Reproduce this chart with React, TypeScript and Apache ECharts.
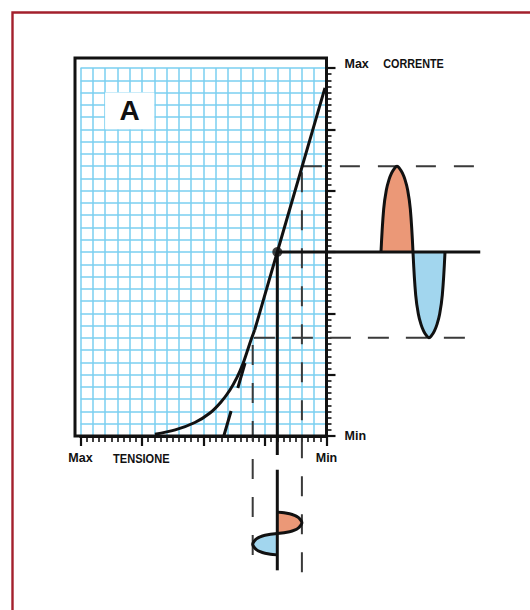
import { useEffect, useRef } from "react";
import * as echarts from "echarts";

// ---------- data (divisions of the graph paper) ----------
// characteristic curve: knee part and linear part
const kneeTension = [12.1, 15.4, 18.6, 21.05, 22.85, 24.3, 25.45, 26.35, 27.07, 27.72, 28.32];
const kneeCurrent = [0.3, 1.0, 2.2, 3.75, 5.55, 7.5, 9.55, 11.6, 13.7, 15.65, 17.28];
const linearTension = [28.32, 32, 39.75];
const linearCurrent = [17.28, 30, 56.75];
// dashed extension of the linear part below the knee
const tangentTension = [23.3, 27.85];
const tangentCurrent = [0, 15.65];
// working point and swings
const qTension = 32;
const qCurrent = 30;
const tensionSwing = [28, 36];
const currentSwing = [16, 44];
// axis end labels and titles
const tensionEnds = ["Max", "Min"];
const currentEnds = ["Min", "Max"];
const tensionTitle = "TENSIONE";
const currentTitle = "CORRENTE";
const panelLetter = "A";
// signals (phase in degrees, deviation from the working point)
const waveAngles = [0, 15, 30, 45, 60, 75, 90, 105, 120, 135, 150, 165, 180, 195, 210, 225, 240, 255, 270, 285, 300, 315, 330, 345, 360];
const currentWave = [0, 7.0, 10.1, 11.8, 12.9, 13.6, 14, 13.6, 12.9, 11.8, 10.1, 7.0, 0, -7.0, -10.1, -11.8, -12.9, -13.6, -14, -13.6, -12.9, -11.8, -10.1, -7.0, 0];
const tensionWave = [0, 2.0, 2.9, 3.4, 3.7, 3.9, 4, 3.9, 3.7, 3.4, 2.9, 2.0, 0, -2.0, -2.9, -3.4, -3.7, -3.9, -4, -3.9, -3.7, -3.4, -2.9, -2.0, 0];

// ---------- layout / style ----------
const FONT = '"Liberation Sans", Arial, sans-serif';
const INK = "#111111";
const PAPER = "#7acff0";
const DASH = "#3a3a3a";
const ORANGE = "#eb9877";
const BLUE = "#a2d6ee";
const UX = 6.15; // px per tension division
const UY = 6.1333; // px per current division
const GUIDE = { rightEnd: 65, lowEnd: 62.5, qDropEnd: -3.1, waveAxisTop: -5.5, waveAxisBottom: -21.9, lowDropEnd: -19.4, highDropEnd: -22.2, yMin: -23 };

const pairs = (xs: number[], ys: number[]) => xs.map((x, i) => [x, ys[i]]);
const labelFont = { fontFamily: FONT, fontWeight: "bold" as const, fontSize: 12.5, color: INK };

function guide(data: number[][], color: string, width: number, type: any = "solid", z = 3) {
  return {
    type: "line", xAxisIndex: 5, yAxisIndex: 5, data, symbol: "none", clip: false, silent: true, z,
    lineStyle: { color, width, type, cap: "butt" },
  };
}

export default function App() {
  const ref = useRef<HTMLDivElement>(null);
  useEffect(() => {
    document.body.style.margin = "0";
    const chart = echarts.init(ref.current!, undefined, { renderer: "svg" });
    const hidden = { show: false };
    const option: any = {
      animation: false,
      backgroundColor: "#ffffff",
      grid: [
        { left: 75, top: 58, width: 251.5, height: 378, show: true, borderColor: INK, borderWidth: 3, backgroundColor: "transparent", z: 5, outerBoundsMode: "none" },
        { left: 80.5, top: 68, width: 40 * UX, height: 60 * UY, outerBoundsMode: "none" },
        { left: 381, top: 68, width: 64, height: 60 * UY, outerBoundsMode: "none" },
        { left: 80.5 + (qTension - 4) * UX, top: 512, width: 8 * UX, height: 43, outerBoundsMode: "none" },
        { left: 80.5, top: 68, width: GUIDE.rightEnd * UX, height: (60 - GUIDE.yMin) * UY, outerBoundsMode: "none" },
      ],
      xAxis: [
        {
          type: "value", gridIndex: 1, min: 0, max: 40, interval: 10, position: "bottom",
          axisLine: { show: true, onZero: false, lineStyle: { color: INK, width: 3 } },
          axisTick: { show: true, length: 10, lineStyle: { color: INK, width: 2.2 } },
          minorTick: { show: true, splitNumber: 10, length: 6, lineStyle: { color: INK, width: 1.6 } },
          axisLabel: { ...labelFont, margin: 16, showMinLabel: true, showMaxLabel: true,
            formatter: (v: number) => (v === 0 ? tensionEnds[0] : v === 40 ? tensionEnds[1] : "") },
          splitLine: hidden,
        },
        {
          type: "value", gridIndex: 1, min: 0, max: 40, interval: 2, position: "top",
          axisLine: hidden, axisTick: hidden, axisLabel: hidden,
          splitLine: { show: true, lineStyle: { color: PAPER, width: 1.5 } },
        },
        { type: "value", gridIndex: 0, min: 0, max: 1, show: false },
        { type: "value", gridIndex: 2, min: 0, max: 360, show: false },
        { type: "value", gridIndex: 3, min: -4, max: 4, show: false },
        { type: "value", gridIndex: 4, min: 0, max: GUIDE.rightEnd, show: false },
      ],
      yAxis: [
        {
          type: "value", gridIndex: 1, min: 0, max: 60, interval: 10, position: "right",
          axisLine: { show: true, onZero: false, lineStyle: { color: INK, width: 3 } },
          axisTick: { show: true, length: 9, lineStyle: { color: INK, width: 2.2 } },
          minorTick: { show: true, splitNumber: 10, length: 5, lineStyle: { color: INK, width: 1.6 } },
          axisLabel: {
            margin: 18, showMinLabel: true, showMaxLabel: true,
            formatter: (v: number) => (v === 60 ? `{mx|${currentEnds[1]}}` : v === 0 ? `{mn|${currentEnds[0]}}` : ""),
            rich: { mx: { ...labelFont, padding: [0, 0, 9, 0] }, mn: { ...labelFont } },
          },
          splitLine: hidden,
        },
        {
          type: "value", gridIndex: 1, min: 0, max: 60, interval: 2, position: "left",
          axisLine: hidden, axisTick: hidden, axisLabel: hidden,
          splitLine: { show: true, lineStyle: { color: PAPER, width: 1.5 } },
        },
        { type: "value", gridIndex: 0, min: 0, max: 1, show: false },
        { type: "value", gridIndex: 2, min: -30, max: 30, show: false },
        { type: "category", gridIndex: 3, data: waveAngles.map(String), inverse: true, boundaryGap: false, show: false },
        { type: "value", gridIndex: 4, min: GUIDE.yMin, max: 60, show: false },
      ],
      series: [
        // dashed guide lines
        guide([[tensionSwing[1], currentSwing[1]], [GUIDE.rightEnd, currentSwing[1]]], DASH, 2, [20, 18]),
        guide([[GUIDE.lowEnd, currentSwing[0]], [tensionSwing[0], currentSwing[0]]], DASH, 2, [21, 17]),
        guide([[tensionSwing[0], GUIDE.lowDropEnd], [tensionSwing[0], currentSwing[0]]], DASH, 2, [20, 18]),
        guide([[tensionSwing[1], GUIDE.highDropEnd], [tensionSwing[1], currentSwing[1]]], DASH, 2, [20, 18]),
        // current signal (right)
        {
          type: "line", xAxisIndex: 3, yAxisIndex: 3, symbol: "none", clip: false, silent: true, smooth: 0.4, z: 4,
          data: pairs(waveAngles.slice(0, 13), currentWave.slice(0, 13)),
          lineStyle: { color: INK, width: 3 }, areaStyle: { color: ORANGE, opacity: 1 },
        },
        {
          type: "line", xAxisIndex: 3, yAxisIndex: 3, symbol: "none", clip: false, silent: true, smooth: 0.4, z: 4,
          data: pairs(waveAngles.slice(12), currentWave.slice(12)),
          lineStyle: { color: INK, width: 3 }, areaStyle: { color: BLUE, opacity: 1 },
        },
        // tension signal (bottom)
        {
          type: "line", xAxisIndex: 4, yAxisIndex: 4, symbol: "none", clip: false, silent: true, smooth: 0.4, z: 4,
          data: tensionWave.map((v, i) => (i <= 12 ? v : "-")),
          lineStyle: { color: INK, width: 3 }, areaStyle: { color: ORANGE, opacity: 1 },
        },
        {
          type: "line", xAxisIndex: 4, yAxisIndex: 4, symbol: "none", clip: false, silent: true, smooth: 0.4, z: 4,
          data: tensionWave.map((v, i) => (i >= 12 ? v : "-")),
          lineStyle: { color: INK, width: 3 }, areaStyle: { color: BLUE, opacity: 1 },
        },
        // solid guide lines through the working point
        guide([[qTension, qCurrent], [GUIDE.rightEnd, qCurrent]], INK, 3, "solid", 5),
        guide([[qTension, qCurrent], [qTension, GUIDE.qDropEnd]], INK, 3, "solid", 5),
        guide([[qTension, GUIDE.waveAxisTop], [qTension, GUIDE.waveAxisBottom]], INK, 3, "solid", 5),
        // tangent extension (dashed)
        guide(pairs(tangentTension, tangentCurrent), INK, 3, [26, 24], 5),
        // characteristic curve
        {
          type: "line", xAxisIndex: 5, yAxisIndex: 5, symbol: "none", clip: false, silent: true, smooth: 0.35, z: 6,
          data: pairs(kneeTension, kneeCurrent),
          lineStyle: { color: INK, width: 3 },
          markArea: {
            silent: true,
            itemStyle: { color: "#ffffff", borderWidth: 0 },
            label: { show: true, position: "inside", formatter: panelLetter, fontFamily: FONT, fontWeight: "bold", fontSize: 28, color: INK },
            data: [[{ coord: [4, 56] }, { coord: [12, 50] }]],
          },
        },
        {
          type: "line", xAxisIndex: 5, yAxisIndex: 5, symbol: "none", clip: false, silent: true, z: 6,
          data: pairs(linearTension, linearCurrent),
          lineStyle: { color: INK, width: 3 },
        },
        {
          type: "scatter", xAxisIndex: 5, yAxisIndex: 5, silent: true, z: 7, symbolSize: 10,
          data: [[qTension, qCurrent]], itemStyle: { color: INK },
        },
      ],
      graphic: {
        elements: [
          { type: "rect", silent: true, z: 100, shape: { x: 12.5, y: 12.5, width: 620, height: 720 },
            style: { fill: "none", stroke: "#a3202c", lineWidth: 2.4 } },
          { type: "text", x: 141.3, y: 459, scaleX: 0.82, silent: true,
            style: { text: tensionTitle, fontFamily: FONT, fontWeight: 900, fontSize: 13.5, fill: INK, align: "center", verticalAlign: "middle" } },
          { type: "text", x: 413.5, y: 63.5, scaleX: 0.8, silent: true,
            style: { text: currentTitle, fontFamily: FONT, fontWeight: 900, fontSize: 13.5, fill: INK, align: "center", verticalAlign: "middle" } },
        ],
      },
    };
    chart.setOption(option);
    return () => chart.dispose();
  }, []);
  return <div ref={ref} style={{ width: 530, height: 610 }} />;
}
